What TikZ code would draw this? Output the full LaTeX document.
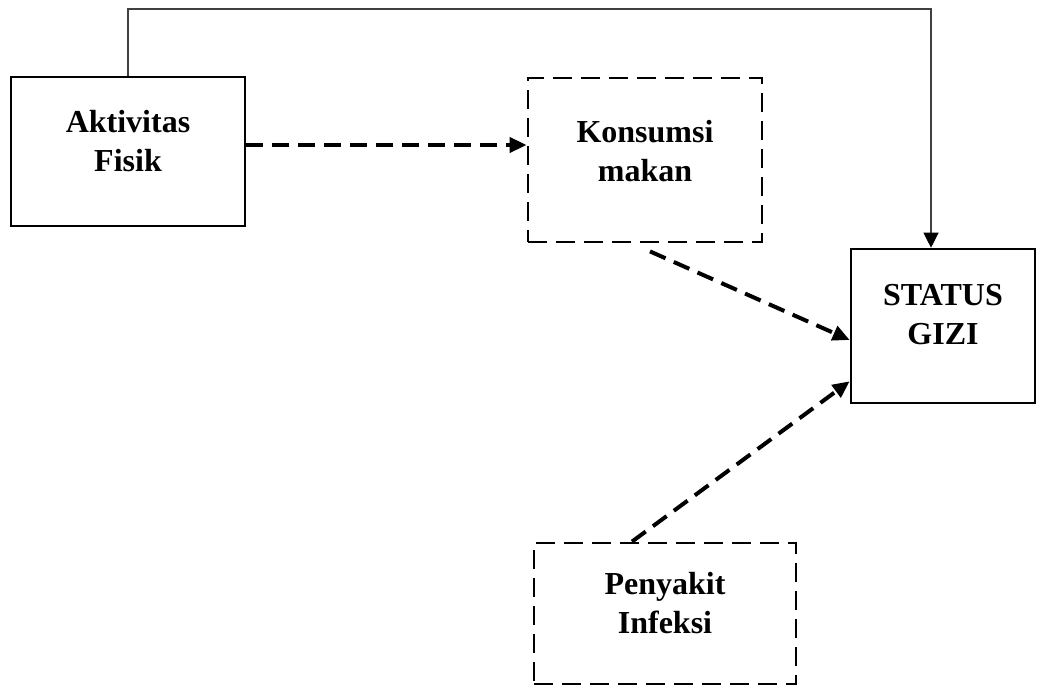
\documentclass[tikz,border=0pt]{standalone}
\usepackage{fontspec}
\setmainfont{Liberation Serif}
\usetikzlibrary{arrows.meta,calc}
\tikzset{
  solidbox/.style={draw=black, line width=2.6pt, rectangle, inner sep=0pt},
  dashbox/.style={draw=black, line width=2.8pt, rectangle, inner sep=0pt, dash pattern=on 19pt off 9pt},
  lbl/.style={align=center, font=\fontsize{32}{39}\selectfont\bfseries, inner sep=0pt},
  dasharrow/.style={draw=black, line width=4pt, dash pattern=on 17pt off 9pt, -{Triangle[length=17pt,width=15pt]}},
  thinarrow/.style={draw=black!75, line width=1.2pt, -{Triangle[length=15pt,width=15pt,color=black,fill=black]}}
}
\begin{document}
\begin{tikzpicture}[x=1pt,y=-1pt]
\useasboundingbox (0,0) rectangle (1037,688);
\node[solidbox, minimum width=234pt, minimum height=149pt] (akt) at (128,151.5) {};
\node[lbl] (aktl) at (128,141) {Aktivitas\\Fisik};
\node[dashbox, minimum width=234pt, minimum height=164pt] (kon) at (645,160) {};
\node[lbl] (konl) at (645,151) {Konsumsi\\makan};
\node[solidbox, minimum width=184pt, minimum height=154pt] (sta) at (943,326) {};
\node[lbl] (stal) at (943,315) {STATUS\\GIZI};
\node[dashbox, minimum width=262pt, minimum height=141pt] (pen) at (665,613.5) {};
\node[lbl] (penl) at (665,603) {Penyakit\\Infeksi};
\coordinate (top1) at (128,9);
\coordinate (top2) at (931,9);
\draw[thinarrow] (akt.north) -- (top1) -- (top2) -- (top2 |- sta.north);
\draw[dasharrow] (akt.east |- 0,145) -- (kon.west |- 0,145);
\draw[dasharrow] ($(kon.south)+(5,8)$) -- ($(sta.west)+(0,14)$);
\draw[dasharrow] ($(pen.north)+(-33,0)$) -- ($(sta.south west)+(0,-23)$);
\end{tikzpicture}
\end{document}
